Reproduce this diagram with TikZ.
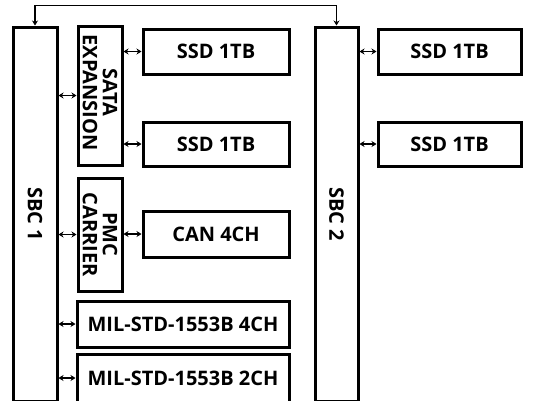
\documentclass[tikz,border=0pt]{standalone}
\usepackage{fontspec}
\setmainfont{Open Sans}
\usetikzlibrary{arrows.meta}
\begin{document}
\begin{tikzpicture}[x=1pt,y=-1pt,
  box/.style={draw,line width=3pt,inner sep=0pt,minimum width=#1},
  lbl/.style={font=\bfseries\fontsize{20}{20}\selectfont,inner sep=0pt,align=center},
  vlbl/.style={lbl,rotate=-90},
  link/.style={line width=1.6pt,{Stealth[length=5pt,width=6pt]}-{Stealth[length=5pt,width=6pt]}}]
\useasboundingbox (0,0) rectangle (538,400);
% boxes
\node[box=44,minimum height=374] (sbc1) at (35,214) {};
\node[vlbl] (sbc1t) at (sbc1) {SBC 1};
\node[box=44,minimum height=139] (sata) at (100,95.5) {};
\node[vlbl] (satat) at ([yshift=3]sata) {SATA\\EXPANSION};
\node[box=44,minimum height=113] (pmc) at (100,234.5) {};
\node[vlbl] (pmct) at (pmc) {PMC\\CARRIER};
\node[box=146,minimum height=45,lbl] (ssd1) at (216,51.5) {SSD 1TB};
\node[box=146,minimum height=44,lbl] (ssd2) at (216,144) {SSD 1TB};
\node[box=146,minimum height=46,lbl] (can) at (216,234) {CAN 4CH};
\node[box=212,minimum height=46,lbl] (mil4) at (183,324) {MIL-STD-1553B 4CH};
\node[box=212,minimum height=48,lbl] (mil2) at (183,378) {MIL-STD-1553B 2CH};
\node[box=43,minimum height=374] (sbc2) at (336.5,214) {};
\node[vlbl] (sbc2t) at (sbc2) {SBC 2};
\node[box=143,minimum height=45,lbl] (ssdr1) at (449.5,51.5) {SSD 1TB};
\node[box=143,minimum height=44,lbl] (ssdr2) at (449.5,144) {SSD 1TB};
% connectors
\draw[link] (sbc1.north) -- ++(0,-20) -| (sbc2.north);
\draw[link] (sbc1.east |- sata.west) -- (sata.west);
\draw[link] (sata.east |- ssd1.west) -- (ssd1.west);
\draw[link] (sata.east |- ssd2.west) -- (ssd2.west);
\draw[link] (sbc1.east |- pmc.west) -- (pmc.west);
\draw[link] (pmc.east |- can.west) -- (can.west);
\draw[link] (sbc1.east |- mil4.west) -- (mil4.west);
\draw[link] (sbc1.east |- mil2.west) -- (mil2.west);
\draw[link] (sbc2.east |- ssdr1.west) -- (ssdr1.west);
\draw[link] (sbc2.east |- ssdr2.west) -- (ssdr2.west);
\end{tikzpicture}
\end{document}
